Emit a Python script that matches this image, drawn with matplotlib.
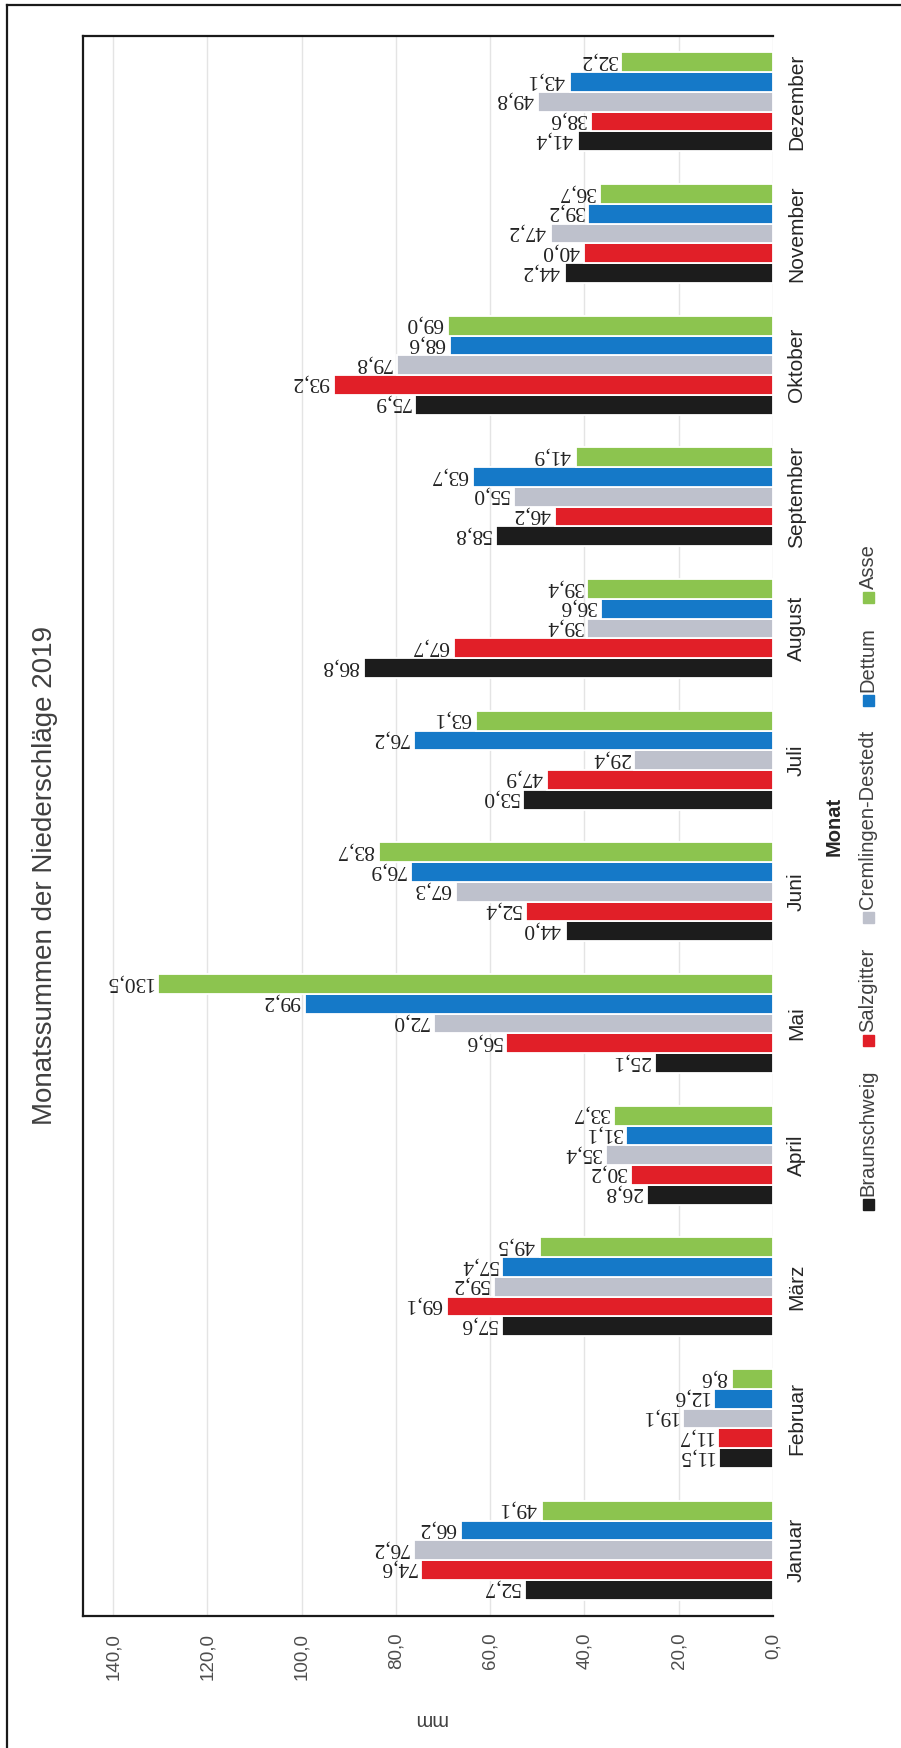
import matplotlib
matplotlib.use("Agg")
import matplotlib.pyplot as plt
from matplotlib.patches import Rectangle
from matplotlib.lines import Line2D
import numpy as np

# Monthly precipitation totals 2019 (mm)
months = ["Januar", "Februar", "März", "April", "Mai", "Juni",
          "Juli", "August", "September", "Oktober", "November", "Dezember"]
braunschweig = [52.7, 11.5, 57.6, 26.8, 25.1, 44.0, 53.0, 86.8, 58.8, 75.9, 44.2, 41.4]
salzgitter = [74.6, 11.7, 69.1, 30.2, 56.6, 52.4, 47.9, 67.7, 46.2, 93.2, 40.0, 38.6]
cremlingen = [76.2, 19.1, 59.2, 35.4, 72.0, 67.3, 29.4, 39.4, 55.0, 79.8, 47.2, 49.8]
dettum = [66.2, 12.6, 57.4, 31.1, 99.2, 76.9, 76.2, 36.6, 63.7, 68.6, 39.2, 43.1]
asse = [49.1, 8.6, 49.5, 33.7, 130.5, 83.7, 63.1, 39.4, 41.9, 69.0, 36.7, 32.2]

series_names = ["Braunschweig", "Salzgitter", "Cremlingen-Destedt", "Dettum", "Asse"]
series_values = [braunschweig, salzgitter, cremlingen, dettum, asse]
colors = ["#1c1c1c", "#e11f28", "#bec1cc", "#1579c8", "#8cc44f"]

value_ticks = [0, 20, 40, 60, 80, 100, 120, 140]
value_labels = ["0,0", "20,0", "40,0", "60,0", "80,0", "100,0", "120,0", "140,0"]

plt.rcParams['font.family'] = ['Liberation Sans', 'DejaVu Sans']

W, H = 901, 1748
fig = plt.figure(figsize=(W / 100, H / 100), dpi=100)
fig.patch.set_facecolor("white")


def fx(px):
    return px / W


def fy(py):
    return 1 - py / H


ax = fig.add_axes([fx(83), fy(1616), fx(773) - fx(83), fy(36) - fy(1616)])

idx = np.arange(len(months))
bar_h = 0.15
offsets = [-0.3, -0.15, 0.0, 0.15, 0.3]

for vals, col, off in zip(series_values, colors, offsets):
    ys = idx + off
    ax.barh(ys, vals, height=bar_h, color=col, edgecolor="white",
            linewidth=1.3, zorder=3)
    for y, v in zip(ys, vals):
        ax.annotate(f"{v:.1f}".replace(".", ","), xy=(v, y),
                    xytext=(-3.5, 0), textcoords="offset points",
                    rotation=180, rotation_mode="anchor",
                    ha="left", va="center_baseline", family="Liberation Serif",
                    fontsize=15.5, color="#222222", zorder=4)

ax.set_xlim(146.4, 0)
ax.set_ylim(-0.5, 11.5)

ax.set_xticks(value_ticks)
ax.set_xticklabels(value_labels, rotation=90, va="top", ha="center")
ax.tick_params(axis="x", length=0, pad=12, labelsize=13.5, labelcolor="#4d4d4d")
ax.xaxis.grid(True, color="#e4e4e4", linewidth=1.0, zorder=0)
ax.set_axisbelow(True)

ax.yaxis.tick_right()
ax.set_yticks(idx)
ax.set_yticklabels(months, rotation=90, va="center", ha="left")
ax.tick_params(axis="y", length=0, pad=10, labelsize=15, labelcolor="#262626")

ax.spines["right"].set_visible(False)
for s in ("left", "top", "bottom"):
    ax.spines[s].set_linewidth(1.6)
    ax.spines[s].set_color("#1a1a1a")

# Axis titles and chart title
fig.text(fx(834), fy(826), "Monat", rotation=90, ha="center", va="center",
         fontsize=14.5, fontweight="bold", color="#262626")
fig.text(fx(430), fy(1719), "mm", rotation=180, ha="center", va="center",
         fontsize=14.5, color="#404040")
fig.text(fx(45), fy(875), "Monatssummen der Niederschläge 2019", rotation=90,
         ha="center", va="center", fontsize=20, color="#404040")

# Outer frame
fig.add_artist(Line2D([fx(7), fx(7)], [fy(5), 0], transform=fig.transFigure,
                      color="#1a1a1a", linewidth=1.6))
fig.add_artist(Line2D([fx(7), 1], [fy(5), fy(5)], transform=fig.transFigure,
                      color="#1a1a1a", linewidth=1.6))

# Legend laid out along the right edge, reading bottom to top
renderer = fig.canvas.get_renderer()
y = 1210
lx = 868
sq = 11
for name, col in zip(series_names, colors):
    fig.add_artist(Rectangle((fx(lx - sq / 2), fy(y)), sq / W, sq / H,
                             transform=fig.transFigure, color=col))
    y -= sq + 3
    t = fig.text(fx(lx), fy(y), name, rotation=90, ha="center", va="bottom",
                 fontsize=14.5, color="#404040")
    ext = t.get_window_extent(renderer)
    y -= ext.height + 24

fig.savefig("out.png", dpi=100, facecolor="white")
